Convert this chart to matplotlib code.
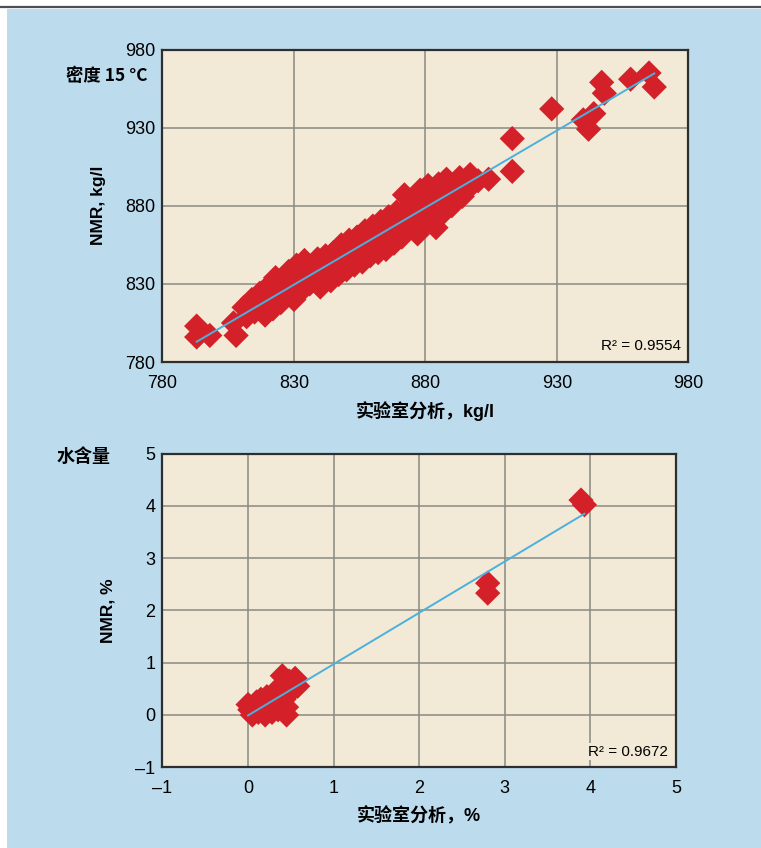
import matplotlib
matplotlib.use('Agg')
import matplotlib.pyplot as plt
from matplotlib.patches import Rectangle
from matplotlib.lines import Line2D
import numpy as np

# 密度 15 °C：实验室分析 vs NMR (kg/l)
dens_lab = [793, 793, 798, 808, 807,
            811, 812, 814, 815, 817, 818, 819, 820, 821, 822, 823, 824, 825, 826, 827,
            828, 829, 830, 831, 832, 833, 834, 835, 836, 837, 838, 839, 840, 841, 842,
            843, 844, 845, 846, 847, 848, 849, 850, 851, 852, 853, 854, 855, 856, 857,
            858, 859, 860, 861, 862, 863, 864, 865, 866, 867, 868, 869, 870, 871, 872,
            873, 874, 875, 876, 877, 878, 879, 880, 881, 882, 883, 884, 885, 886, 887,
            888, 889, 890, 891, 893, 894, 895, 897, 898, 900, 904, 913, 913, 928, 940,
            942, 944, 947, 948, 958, 965, 967]
dens_nmr = [803, 796, 797, 797, 805,
            815, 809, 820, 812, 824, 816, 810, 828, 820, 814, 834, 826, 818, 832, 822,
            838, 828, 820, 842, 834, 826, 845, 838, 830, 842, 834, 846, 828, 838, 848,
            840, 832, 850, 843, 836, 855, 846, 839, 858, 850, 842, 860, 852, 844, 864,
            856, 848, 867, 858, 850, 870, 861, 852, 873, 865, 856, 876, 868, 860, 887,
            878, 868, 882, 872, 862, 890, 880, 870, 893, 884, 874, 866, 894, 886, 876,
            897, 888, 880, 893, 898, 886, 892, 900, 894, 896, 897, 902, 923, 942, 935,
            929, 939, 959, 952, 961, 965, 956]

# 水含量：实验室分析 vs NMR (%)
water_lab = [0.00, 0.02, 0.05, 0.08, 0.10, 0.12, 0.15, 0.18, 0.20, 0.22, 0.25, 0.28,
             0.30, 0.32, 0.35, 0.38, 0.40, 0.42, 0.45, 0.48, 0.50, 0.55, 0.58, 0.45,
             2.80, 2.80, 3.89, 3.93]
water_nmr = [0.20, 0.10, 0.00, 0.15, 0.25, 0.05, 0.30, 0.15, 0.00, 0.35, 0.20, 0.05,
             0.40, 0.25, 0.10, 0.55, 0.75, 0.30, 0.15, 0.65, 0.45, 0.70, 0.55, 0.00,
             2.52, 2.33, 4.11, 4.02]

dens_ticks = [780, 830, 880, 930, 980]
water_ticks = [-1, 0, 1, 2, 3, 4, 5]
r2_dens = 'R² = 0.9554'
r2_water = 'R² = 0.9672'

bg_blue = '#bcdcee'
face = '#f2ead6'
grid_c = '#8a8a82'
red = '#d42129'
line_c = '#4cb0dc'

num_font = ['Liberation Sans Narrow', 'Liberation Sans', 'DejaVu Sans']
cjk_font = ['Liberation Sans', 'Noto Sans CJK SC', 'DejaVu Sans']

fig = plt.figure(figsize=(7.61, 8.48), dpi=100, facecolor='white')
fig.patches.append(Rectangle((7 / 761, 0), 1, 1 - 9 / 848, transform=fig.transFigure,
                             facecolor=bg_blue, edgecolor='none', zorder=-10))
fig.lines.append(Line2D([0, 1], [1 - 7 / 848, 1 - 7 / 848], transform=fig.transFigure,
                        color='#4a4f55', linewidth=1.6, zorder=-9))


def panel(rect, xs, ys, ticks, ylabel, xlabel, r2):
    ax = fig.add_axes(rect)
    ax.set_facecolor(face)
    ax.scatter(xs, ys, marker='D', s=165, color=red, edgecolors='none', zorder=3)
    k, b = np.polyfit(xs, ys, 1)
    x0, x1 = min(xs), max(xs)
    ax.plot([x0, x1], [k * x0 + b, k * x1 + b], color=line_c, lw=1.4, zorder=4)
    ax.set_xlim(ticks[0], ticks[-1])
    ax.set_ylim(ticks[0], ticks[-1])
    ax.set_xticks(ticks)
    ax.set_yticks(ticks)
    ax.set_xticklabels([str(t).replace('-', '–') for t in ticks], family=num_font, fontsize=13)
    ax.set_yticklabels([str(t).replace('-', '–') for t in ticks], family=num_font, fontsize=13)
    ax.tick_params(axis='x', length=0, pad=9)
    ax.tick_params(axis='y', length=0, pad=5)
    ax.grid(True, color=grid_c, linewidth=1.1)
    ax.set_axisbelow(True)
    for s in ax.spines.values():
        s.set_color('#2e2e2e')
        s.set_linewidth(1.6)
    ax.set_ylabel(ylabel, family=cjk_font, fontsize=12.5, fontweight='bold', labelpad=14)
    ax.set_xlabel(xlabel, family=cjk_font, fontsize=13, fontweight='bold', labelpad=7)
    ax.text(0.985, 0.05, r2, transform=ax.transAxes, ha='right', va='center',
            family=num_font, fontsize=11, zorder=5,
            bbox=dict(facecolor=face, edgecolor='none', pad=1))
    return ax


ax1 = panel([0.2135, 0.5731, 0.6912, 0.3685], dens_lab, dens_nmr, dens_ticks,
            'NMR, kg/l', '实验室分析，kg/l', r2_dens)
ax2 = panel([0.2135, 0.0952, 0.6748, 0.3700], water_lab, water_nmr, water_ticks,
            'NMR, %', '实验室分析，%', r2_water)

fig.text(147 / 761, 1 - 76 / 848, '密度 15 °C', ha='right', va='center',
         family=['Noto Sans CJK SC', 'DejaVu Sans'], fontsize=12.5, fontweight='bold')
fig.text(111 / 761, 1 - 457 / 848, '水含量', ha='right', va='center',
         family=['Noto Sans CJK SC', 'DejaVu Sans'], fontsize=13, fontweight='bold')

fig.savefig('out.png', dpi=100, facecolor='white')
